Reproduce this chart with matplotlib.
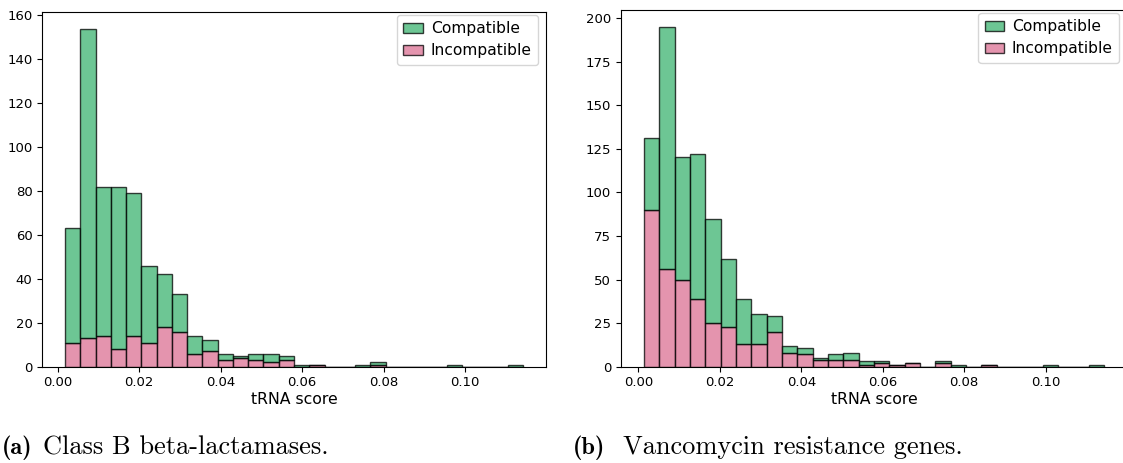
import numpy as np
import matplotlib.pyplot as plt

# bin counts (30 bins each)
compat_a = [52, 141, 68, 74, 65, 35, 24, 17, 8, 5, 3, 1, 3, 4, 2, 1, 0, 0, 0, 1, 1, 0, 0, 0, 0, 1, 0, 0, 0, 1]
incompat_a = [11, 13, 14, 8, 14, 11, 18, 16, 6, 7, 3, 4, 3, 2, 3, 0, 1, 0, 0, 0, 1, 0, 0, 0, 0, 0, 0, 0, 0, 0]
compat_b = [41, 139, 70, 83, 60, 39, 26, 17, 9, 4, 4, 1, 3, 4, 2, 1, 0, 0, 0, 1, 1, 0, 0, 0, 0, 0, 1, 0, 0, 1]
incompat_b = [90, 56, 50, 39, 25, 23, 13, 13, 20, 8, 7, 4, 4, 4, 1, 2, 1, 2, 0, 2, 0, 0, 1, 0, 0, 0, 0, 0, 0, 0]

# score range covered by the bins
range_a = (0.00188, 0.1141)
range_b = (0.0014, 0.1143)

captions = [('(a)', 'Class B beta-lactamases.'), ('(b)', 'Vancomycin resistance genes.')]

fig = plt.figure(figsize=(11.23, 4.63), dpi=100)
ax1 = fig.add_axes([0.0377, 0.208, 0.4482, 0.7667])
ax2 = fig.add_axes([0.553, 0.208, 0.4505, 0.771])


def draw(ax, compat, incompat, rng):
    edges = np.linspace(rng[0], rng[1], len(compat) + 1)
    centers = (edges[:-1] + edges[1:]) / 2
    ax.hist([centers, centers], bins=edges, weights=[incompat, compat], stacked=True,
            color=['palevioletred', 'mediumseagreen'], edgecolor='black', alpha=0.75,
            label=['Incompatible', 'Compatible'])
    h, l = ax.get_legend_handles_labels()
    ax.legend(h[::-1], l[::-1], loc='upper right', bbox_to_anchor=(1.0, 1.012),
              fontsize=11.2, handlelength=1.25, handletextpad=0.5, labelspacing=0.45)
    ax.set_xlabel('tRNA score', fontsize=11.3, labelpad=2)
    ax.tick_params(labelsize=9.5)


draw(ax1, compat_a, incompat_a, range_a)
draw(ax2, compat_b, incompat_b, range_b)
ax2.set_yticks([0, 25, 50, 75, 100, 125, 150, 175, 200])

# subfigure captions
fig.text(0.002, 0.034, captions[0][0], family='cmb10', fontsize=17.5, va='center')
fig.text(0.0383, 0.034, captions[0][1], family='cmr10', fontsize=19, va='center')
fig.text(0.510, 0.034, captions[1][0], family='cmb10', fontsize=17.5, va='center')
fig.text(0.5548, 0.034, captions[1][1], family='cmr10', fontsize=19, va='center')

plt.savefig('out.png')
